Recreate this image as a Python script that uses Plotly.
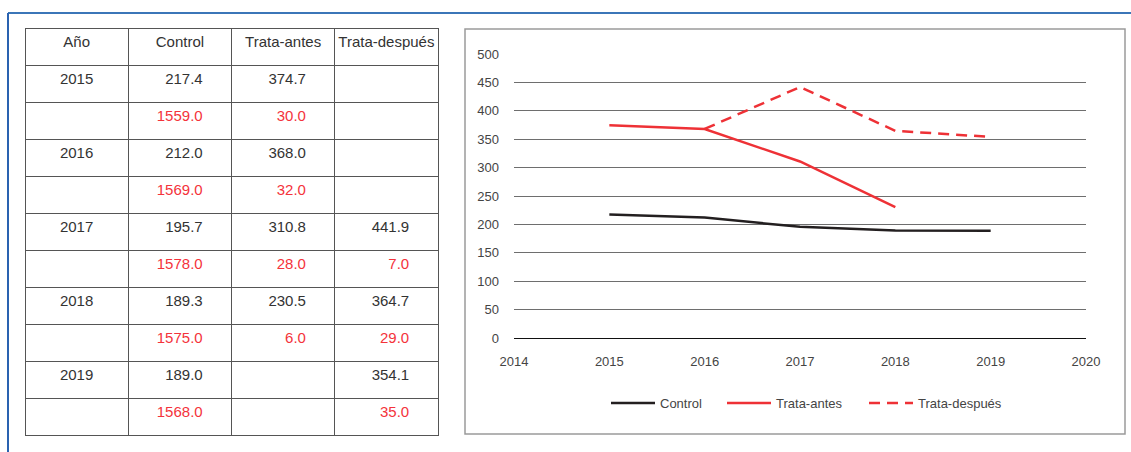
import plotly.graph_objects as go

W, H = 1131, 452

# ---- data ----
years = [2015, 2016, 2017, 2018, 2019]
control = [217.4, 212.0, 195.7, 189.3, 189.0]
control_n = [1559.0, 1569.0, 1578.0, 1575.0, 1568.0]
antes = [374.7, 368.0, 310.8, 230.5, None]
antes_n = [30.0, 32.0, 28.0, 6.0, None]
despues = [None, None, 441.9, 364.7, 354.1]
despues_n = [None, None, 7.0, 29.0, 35.0]
headers = ["Año", "Control", "Trata-antes", "Trata-después"]
x_ticks = [2014, 2015, 2016, 2017, 2018, 2019, 2020]
y_ticks = list(range(0, 501, 50))

BLACK_TXT = "#333333"
RED_TXT = "#f4333b"
LINE_RED = "#ee3136"
LINE_BLACK = "#231f20"
FONT = "Liberation Sans, Arial, Helvetica, sans-serif"


def fmt(v):
    return "" if v is None else f"{v:.1f}"


col_year, col_c, col_a, col_d = [], [], [], []
for i, y in enumerate(years):
    col_year += [str(y), ""]
    col_c += [fmt(control[i]), fmt(control_n[i])]
    col_a += [fmt(antes[i]), fmt(antes_n[i])]
    col_d += [fmt(despues[i]), fmt(despues_n[i])]

row_colors = []
for _ in years:
    row_colors += [BLACK_TXT, RED_TXT]

def px(x):
    return x / W

def py(y):
    return 1 - y / H

PAD = "\u00a0" * 5  # right-side padding inside numeric cells

fig = go.Figure()

fig.add_trace(go.Table(
    domain=dict(x=[px(25), px(438)], y=[py(440), py(28)]),
    columnwidth=[1, 1, 1, 1],
    header=dict(
        values=headers,
        height=37,
        align="center",
        fill_color="white",
        line=dict(color="#555555", width=1),
        font=dict(family=FONT, size=15, color=BLACK_TXT),
    ),
    cells=dict(
        values=[col_year, col_c, col_a, col_d],
        height=37,
        align=["center", "right", "right", "right"],
        suffix=["", PAD, PAD, PAD],
        fill_color="white",
        line=dict(color="#555555", width=1),
        font=dict(family=FONT, size=15,
                  color=[row_colors, row_colors, row_colors, row_colors]),
    ),
))

# plotted después series starts from the 2016 antes point
despues_plot = [None, antes[1]] + despues[2:]

fig.add_trace(go.Scatter(x=years, y=control, mode="lines", name="Control",
                         legendwidth=57,
                         line=dict(color=LINE_BLACK, width=2.5)))
fig.add_trace(go.Scatter(x=years, y=antes, mode="lines", name="Trata-antes",
                         legendwidth=83,
                         line=dict(color=LINE_RED, width=2.5)))
fig.add_trace(go.Scatter(x=years, y=despues_plot, mode="lines", name="Trata-después",
                         legendwidth=90,
                         line=dict(color=LINE_RED, width=2.5, dash="11px,7px")))

fig.update_layout(
    width=W, height=H,
    margin=dict(l=0, r=0, t=0, b=0, pad=0, autoexpand=False),
    paper_bgcolor="white",
    plot_bgcolor="white",
    font=dict(family=FONT, size=13, color="#444444"),
    xaxis=dict(
        domain=[px(514), px(1086)],
        range=[2014, 2020],
        tickvals=x_ticks,
        showgrid=False, zeroline=False, showline=False,
        ticks="", ticklabelstandoff=14,
        tickfont=dict(size=13, color="#444444"),
        automargin=False,
    ),
    yaxis=dict(
        domain=[py(338), py(54)],
        range=[0, 500],
        tickvals=y_ticks,
        showgrid=True, gridcolor="#6e6e6e", gridwidth=1,
        zeroline=True, zerolinecolor="#111111", zerolinewidth=1,
        showline=False, ticks="", ticklabelstandoff=14,
        tickfont=dict(size=13, color="#444444"),
        automargin=False,
    ),
    legend=dict(
        orientation="h", x=px(606), xanchor="left",
        y=py(403), yanchor="middle",
        font=dict(size=13, color="#444444"),
        bgcolor="rgba(0,0,0,0)",
        itemwidth=44,
    ),
    showlegend=True,
    shapes=[
        dict(type="rect", xref="paper", yref="paper",
             x0=px(465), x1=px(1125), y0=py(434), y1=py(29),
             line=dict(color="#9a9a9a", width=1.5), layer="below"),
        dict(type="line", xref="paper", yref="paper",
             x0=px(8), x1=1, y0=py(13), y1=py(13),
             line=dict(color="#3b76b8", width=2)),
        dict(type="line", xref="paper", yref="paper",
             x0=px(8), x1=px(8), y0=0, y1=py(13),
             line=dict(color="#2a62b0", width=2)),
    ],
)

fig.write_html(
    "out.html",
    config={"displayModeBar": False},
    post_script="document.body.style.margin='0';document.body.style.overflow='hidden';",
)
